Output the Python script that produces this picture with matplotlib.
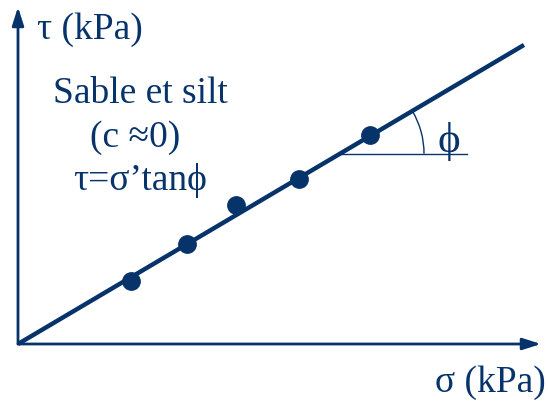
import numpy as np
import matplotlib.pyplot as plt
from matplotlib.patches import Arc

# shear test results (kPa)
sigma = [113, 169, 218, 281, 352]
tau = [63, 100, 139, 165, 209]

# Mohr-Coulomb envelope, c = 0
tan_phi = 0.591
sigma_line = [0, 506]
phi_deg = np.degrees(np.arctan(tan_phi))

navy = '#07336b'
plt.rcParams['font.family'] = ['Liberation Serif', 'DejaVu Serif']

fig = plt.figure(figsize=(5.48, 4.04), dpi=100)
ax = fig.add_axes([0, 0, 1, 1])
ax.set_xlim(-18, 530)
ax.set_ylim(-60, 344)
ax.set_aspect('equal')
ax.axis('off')

# axes with arrowheads
arrow = dict(arrowstyle='-|>,head_length=1.1,head_width=0.35', color=navy,
             lw=2.0, shrinkA=0, shrinkB=0)
ax.annotate('', xy=(0, 337), xytext=(0, 0), arrowprops=arrow)
ax.annotate('', xy=(523, 0), xytext=(0, 0), arrowprops=arrow)

# envelope and points
ax.plot(sigma_line, [s * tan_phi for s in sigma_line], color=navy, lw=3.2,
        solid_capstyle='butt')
ax.plot(sigma, tau, 'o', color=navy, ms=12.5)

# friction angle
s0 = 322
t0 = s0 * tan_phi
ax.plot([s0, 449], [t0, t0], color=navy, lw=1.0)
ax.add_patch(Arc((s0, t0), 168, 168, theta1=0, theta2=phi_deg,
                 color=navy, lw=1.0))
ax.text(431, t0 + 12, 'ϕ', color=navy, fontsize=31, ha='center', va='center')

# labels
fs = 27
ax.text(19, 314, 'τ (kPa)', color=navy, fontsize=fs, ha='left', va='center')
ax.text(122, 250, 'Sable et silt', color=navy, fontsize=fs, ha='center', va='center')
ax.text(117, 206, '(c ≈0)', color=navy, fontsize=fs, ha='center', va='center')
ax.text(122, 163, 'τ=σ’tanϕ', color=navy, fontsize=fs, ha='center', va='center')
ax.text(417, -39, 'σ (kPa)', color=navy, fontsize=fs, ha='left', va='center')

fig.savefig('out.png', dpi=100)
